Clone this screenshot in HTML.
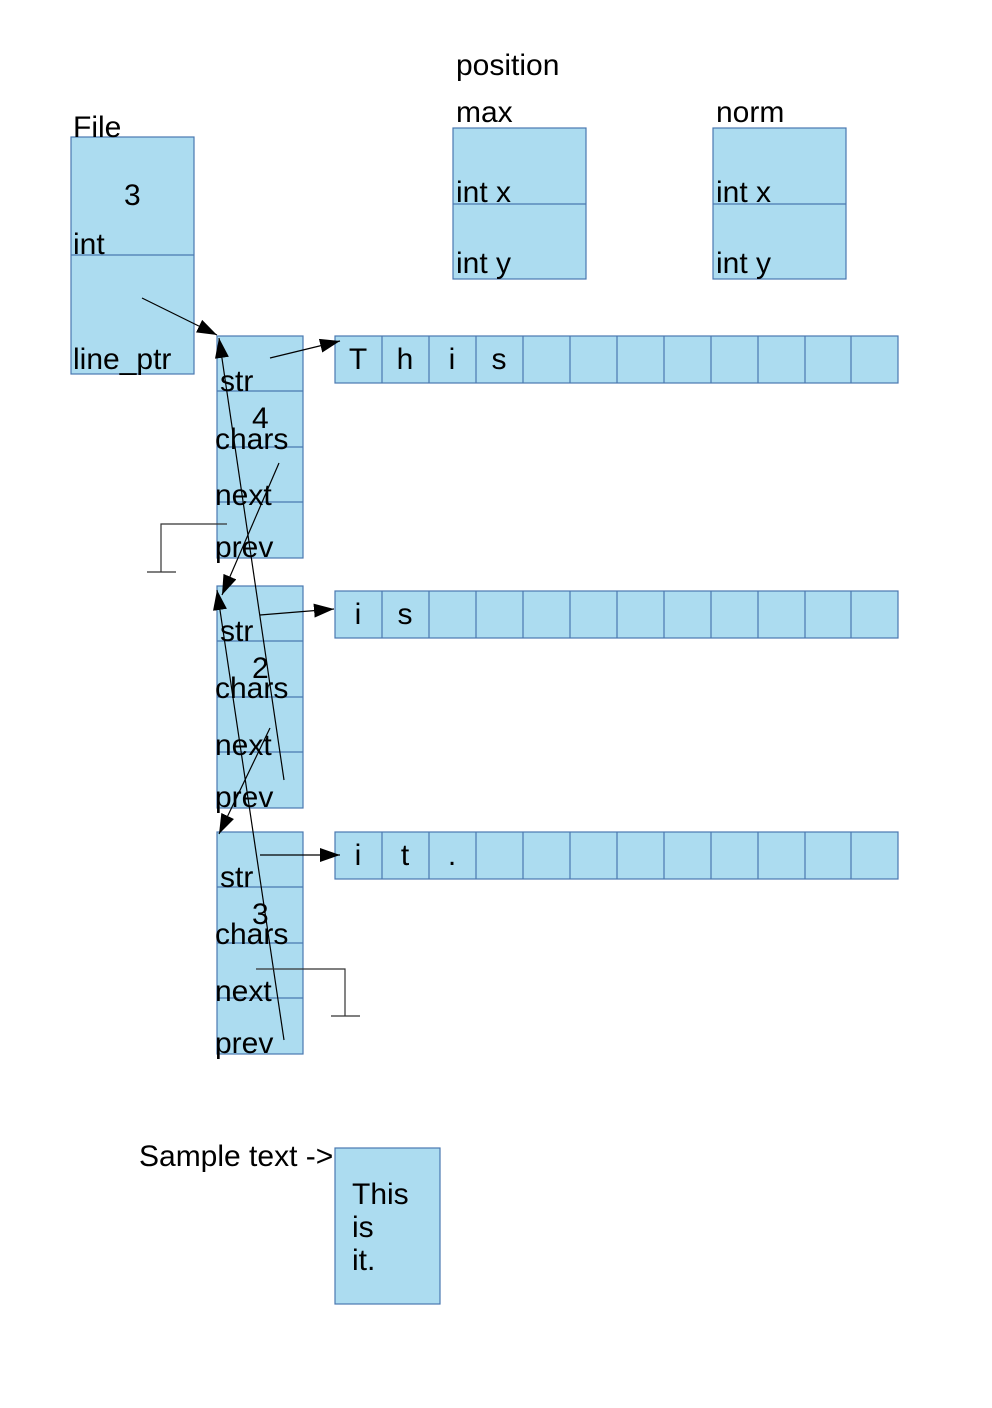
<!DOCTYPE html>
<html><head><meta charset="utf-8"><style>
html,body{margin:0;padding:0;background:#fff;}
svg text{font-family:"Liberation Sans",sans-serif;font-size:30px;fill:#000;}
</style></head><body>
<svg width="992" height="1403" viewBox="0 0 992 1403" xmlns="http://www.w3.org/2000/svg">
<defs>
<marker id="b" markerWidth="20" markerHeight="14" refX="20" refY="7" orient="auto" markerUnits="userSpaceOnUse"><path d="M0,0 L20,7 L0,14 z" fill="#000"/></marker></defs>
<g fill="#acdcf0" stroke="#4a78b0" stroke-width="1.2">
<rect x="71" y="137" width="123" height="237"/><line x1="71" y1="255" x2="194" y2="255"/>
<rect x="453" y="128" width="133" height="151"/><line x1="453" y1="204" x2="586" y2="204"/>
<rect x="713" y="128" width="133" height="151"/><line x1="713" y1="204" x2="846" y2="204"/>
<rect x="217" y="336" width="86" height="222"/><line x1="217" y1="391" x2="303" y2="391"/><line x1="217" y1="447" x2="303" y2="447"/><line x1="217" y1="502" x2="303" y2="502"/>
<rect x="217" y="586" width="86" height="222"/><line x1="217" y1="641" x2="303" y2="641"/><line x1="217" y1="697" x2="303" y2="697"/><line x1="217" y1="752" x2="303" y2="752"/>
<rect x="217" y="832" width="86" height="222"/><line x1="217" y1="887" x2="303" y2="887"/><line x1="217" y1="943" x2="303" y2="943"/><line x1="217" y1="998" x2="303" y2="998"/>
<rect x="335" y="336" width="563" height="47"/>
<rect x="335" y="591" width="563" height="47"/>
<rect x="335" y="832" width="563" height="47"/>
<path d="M382,336V383M429,336V383M476,336V383M523,336V383M570,336V383M617,336V383M664,336V383M711,336V383M758,336V383M805,336V383M851,336V383
M382,591V638M429,591V638M476,591V638M523,591V638M570,591V638M617,591V638M664,591V638M711,591V638M758,591V638M805,591V638M851,591V638
M382,832V879M429,832V879M476,832V879M523,832V879M570,832V879M617,832V879M664,832V879M711,832V879M758,832V879M805,832V879M851,832V879"/>
<rect x="335" y="1148" width="105" height="156"/>
</g>
<text x="73" y="137">File</text><text x="124" y="205">3</text><text x="73" y="254">int</text><text x="73" y="369">line_ptr</text>
<text x="456" y="75">position</text><text x="456" y="122">max</text><text x="716" y="122">norm</text>
<text x="456" y="202">int x</text><text x="456" y="273">int y</text><text x="716" y="202">int x</text><text x="716" y="273">int y</text>
<text x="220" y="391">str</text><text x="252" y="428">4</text><text x="215" y="449">chars</text><text x="215" y="505">next</text><text x="215" y="557">prev</text>
<text x="220" y="641">str</text><text x="252" y="678">2</text><text x="215" y="698">chars</text><text x="215" y="755">next</text><text x="215" y="807">prev</text>
<text x="220" y="887">str</text><text x="252" y="924">3</text><text x="215" y="944">chars</text><text x="215" y="1001">next</text><text x="215" y="1053">prev</text>
<g text-anchor="middle">
<text x="358" y="369">T</text><text x="405" y="369">h</text><text x="452" y="369">i</text><text x="499" y="369">s</text>
<text x="358" y="624">i</text><text x="405" y="624">s</text>
<text x="358" y="865">i</text><text x="405" y="865">t</text><text x="452" y="865">.</text>
</g>
<text x="139" y="1166">Sample text -&gt;</text>
<text x="352" y="1204">This</text><text x="352" y="1237">is</text><text x="352" y="1270">it.</text>
<g stroke="#000" stroke-width="1.2" fill="none">
<line x1="142" y1="298" x2="217" y2="335" marker-end="url(#b)"/>
<line x1="270" y1="358" x2="340" y2="341" marker-end="url(#b)"/>
<line x1="279" y1="463" x2="222" y2="595" marker-end="url(#b)"/>
<line x1="284" y1="780" x2="219" y2="338" marker-end="url(#b)"/>
<line x1="260" y1="615" x2="334" y2="609" marker-end="url(#b)"/>
<line x1="270" y1="728" x2="219" y2="834" marker-end="url(#b)"/>
<line x1="284" y1="1040" x2="217" y2="590" marker-end="url(#b)"/>
<line x1="260" y1="855" x2="340" y2="855" marker-end="url(#b)"/>
<path d="M227,524H161V572M147,572H176" stroke="#333"/>
<path d="M256,969H345V1016M331,1016H360" stroke="#333"/>
</g>
</svg>
</body></html>
